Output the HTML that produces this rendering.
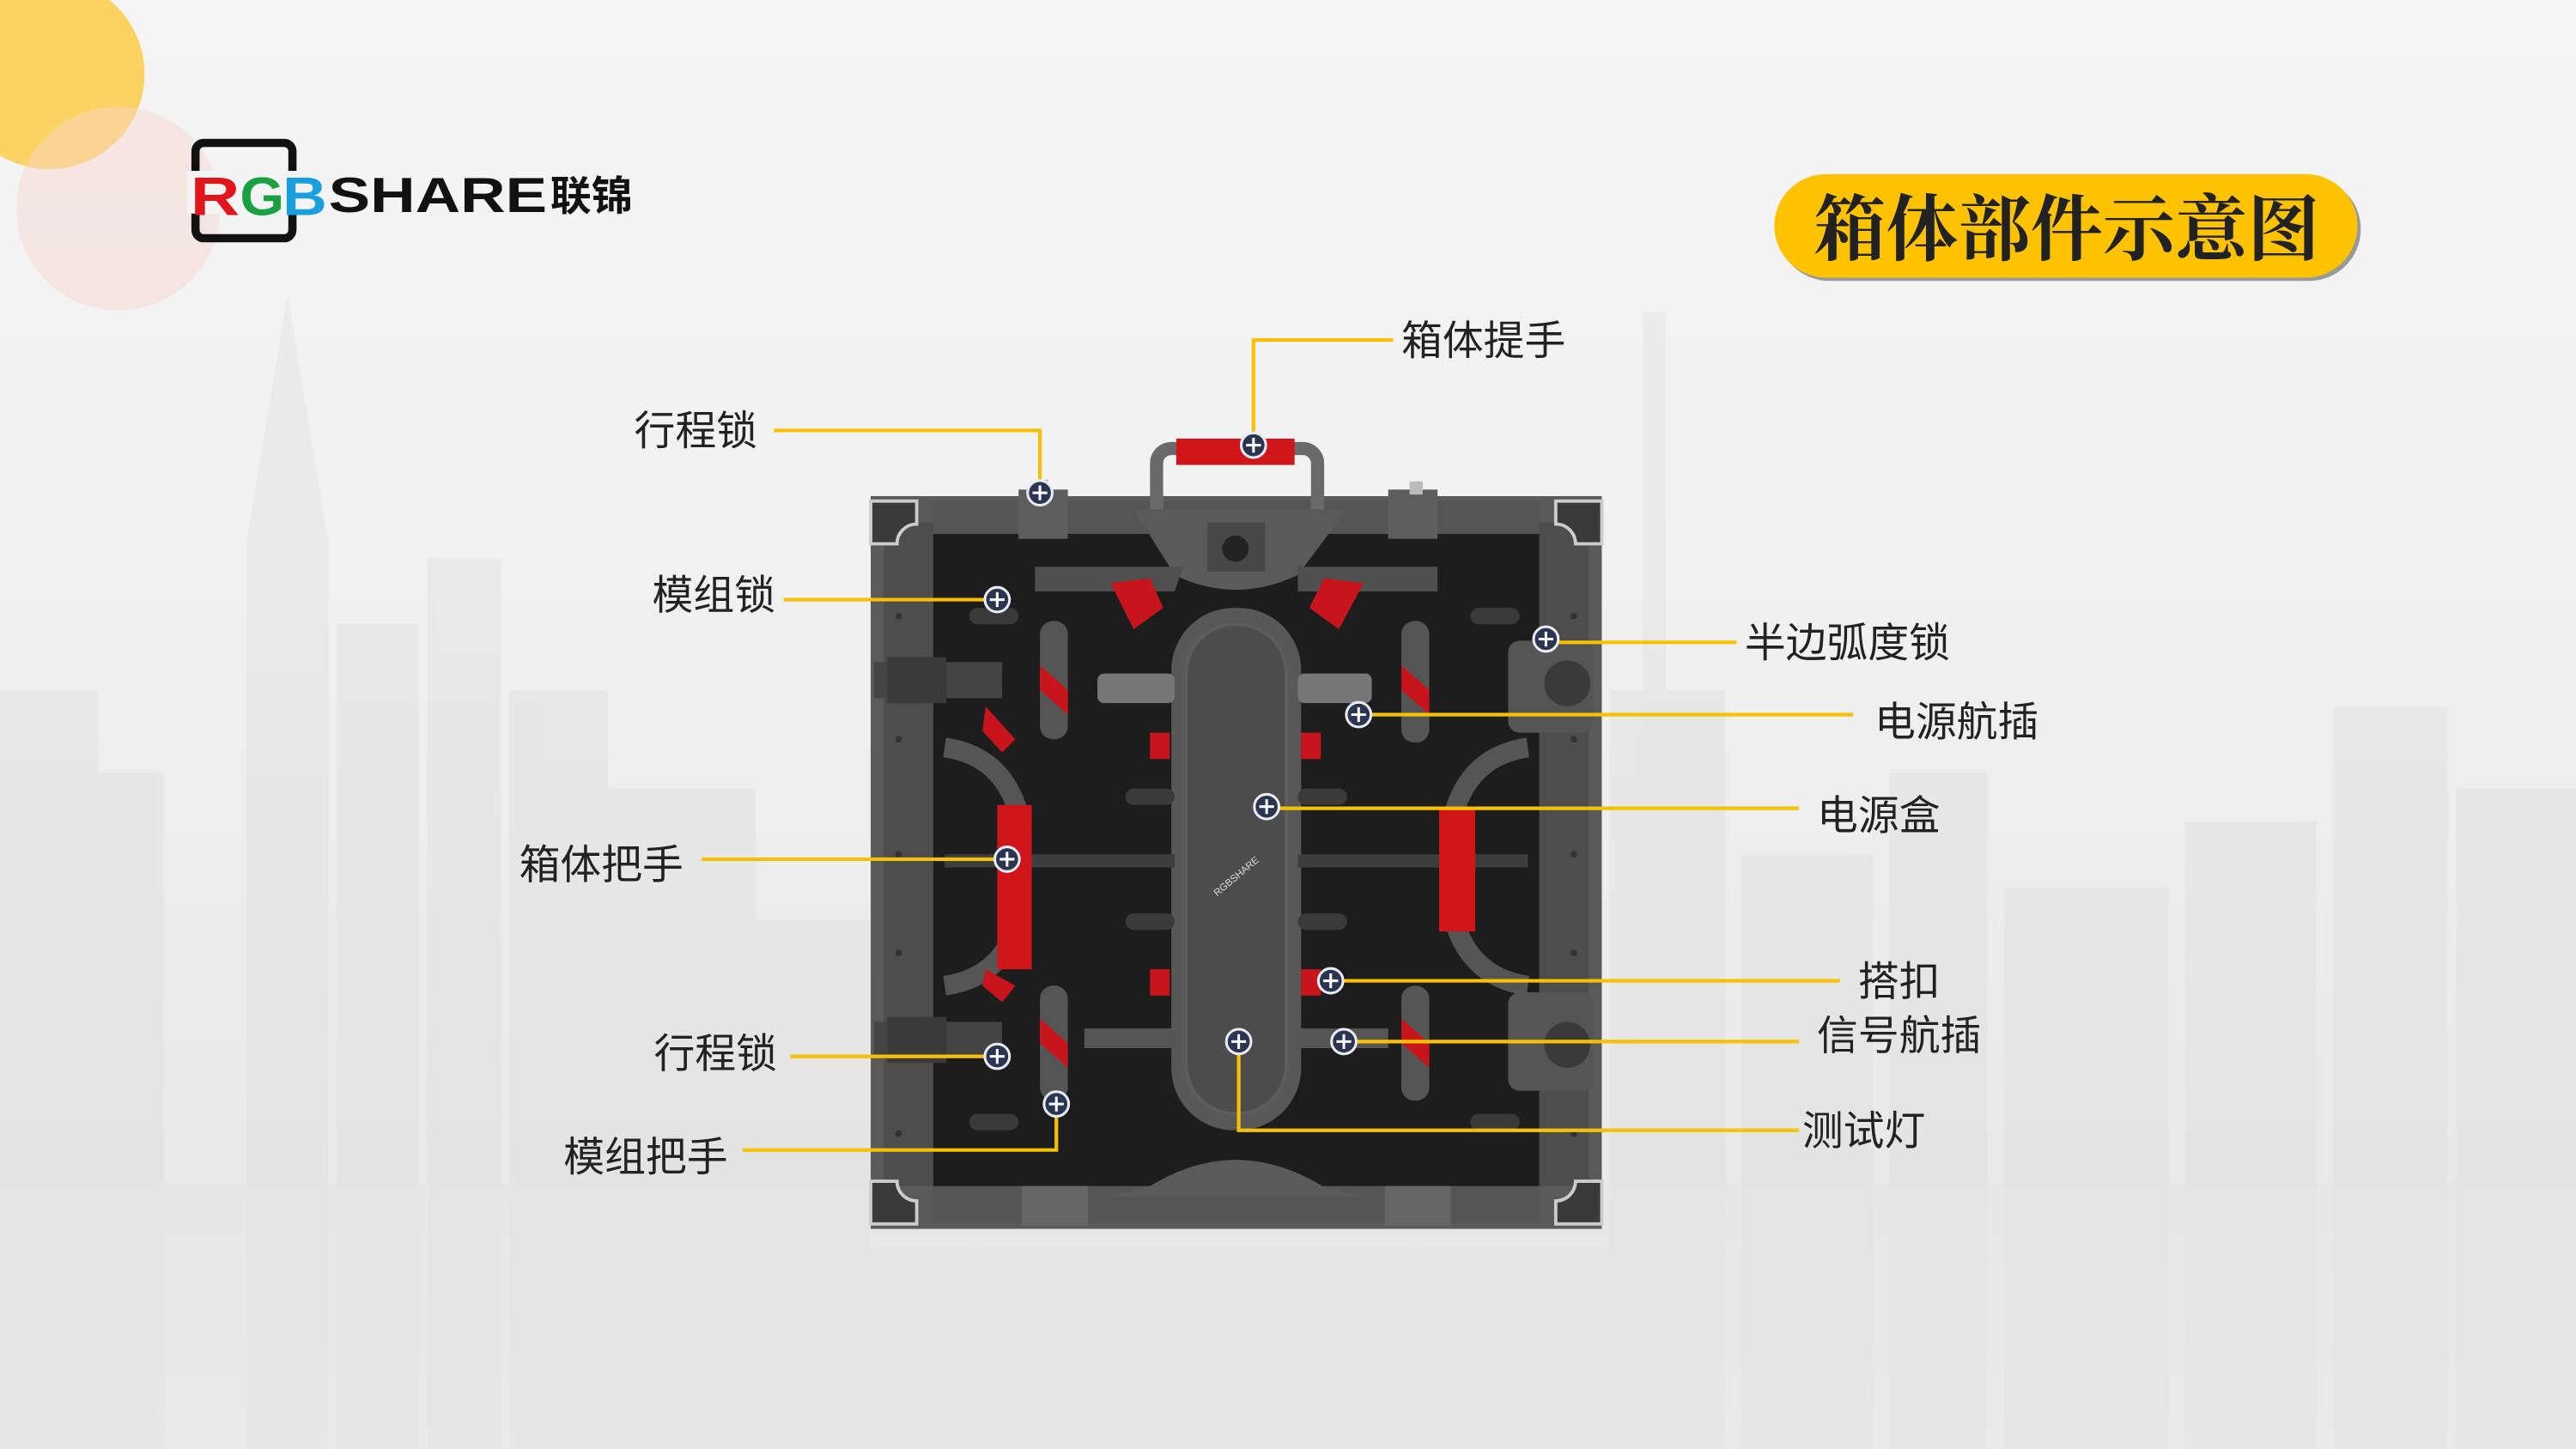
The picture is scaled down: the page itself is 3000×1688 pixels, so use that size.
<!DOCTYPE html>
<html><head><meta charset="utf-8"><style>
html,body{margin:0;padding:0;width:3000px;height:1688px;overflow:hidden;background:#f2f2f2}
svg{display:block}
text{font-family:"Liberation Sans","Noto Sans CJK SC",sans-serif}
.ttl{font-family:"Liberation Serif","Noto Serif CJK SC",serif}
</style></head><body>
<svg width="3000" height="1688" viewBox="0 0 1568 882" preserveAspectRatio="none" xmlns="http://www.w3.org/2000/svg">
<defs>
<linearGradient id="bg" x1="0" y1="0" x2="0" y2="1">
<stop offset="0" stop-color="#f5f5f5"/><stop offset="0.4" stop-color="#f1f1f1"/><stop offset="0.8" stop-color="#e9e9e9"/><stop offset="1" stop-color="#eeeeee"/></linearGradient>
<g id="mk"><circle r="7.5" fill="#2b3552" stroke="#e8ecf4" stroke-width="1.6"/><path d="M-4.5 0H4.5M0 -4.5V4.5" stroke="#fff" stroke-width="1.6"/></g>
</defs>
<rect width="1568" height="882" fill="url(#bg)"/>
<!-- faint city -->
<g fill="#d6d6d6" opacity="0.28">
<rect x="0" y="420" width="60" height="462"/><rect x="60" y="470" width="40" height="412"/>
<path d="M150 330 L175 180 L200 330 L200 882 L150 882Z"/><rect x="205" y="380" width="50" height="502"/>
<rect x="260" y="340" width="45" height="542"/><rect x="310" y="420" width="60" height="462"/>
<rect x="370" y="480" width="90" height="402"/><rect x="460" y="560" width="70" height="322"/>
<rect x="980" y="420" width="70" height="462"/><rect x="1000" y="190" width="14" height="240"/>
<rect x="1060" y="520" width="80" height="362"/><rect x="1150" y="470" width="60" height="412"/>
<rect x="1220" y="540" width="100" height="342"/><rect x="1330" y="500" width="80" height="382"/>
<rect x="1420" y="430" width="70" height="452"/><rect x="1495" y="480" width="73" height="402"/>
<rect x="530" y="760" width="450" height="122"/><rect x="0" y="720" width="1568" height="162" opacity="0.5"/>
</g>
<!-- decorative circles -->
<circle cx="30" cy="45" r="58" fill="#fcd15b" opacity="0.95"/>
<circle cx="72" cy="127" r="62" fill="#f7d4cc" opacity="0.45"/>
<!-- logo -->
<rect x="119" y="87" width="59" height="58" rx="5" fill="none" stroke="#111" stroke-width="5"/>
<rect x="114" y="104" width="92" height="26" fill="#f4f4f4"/>
<text x="116" y="131" font-size="33" font-weight="bold" fill="#e0161c" textLength="30" lengthAdjust="spacingAndGlyphs">R</text>
<text x="146" y="131" font-size="33" font-weight="bold" fill="#1aa040" textLength="27" lengthAdjust="spacingAndGlyphs">G</text>
<text x="172" y="131" font-size="33" font-weight="bold" fill="#1b9ee0" textLength="27" lengthAdjust="spacingAndGlyphs">B</text>
<text x="200" y="129" font-size="30" font-weight="bold" fill="#111" textLength="133" lengthAdjust="spacingAndGlyphs">SHARE</text>
<text x="335" y="128" font-size="25" font-weight="bold" fill="#111">联锦</text>
<!-- title pill -->
<rect x="1082" y="108" width="355" height="63" rx="31.5" fill="#999"/>
<rect x="1080" y="106" width="355" height="63" rx="31.5" fill="#fec300"/>
<text class="ttl" x="1258" y="155" font-size="44" fill="#222" text-anchor="middle" font-weight="bold">箱体部件示意图</text>

<!-- cabinet -->
<g>
<rect x="530" y="302" width="445" height="446" fill="#5a5a5a"/>
<rect x="568" y="318" width="369" height="404" fill="#1d1d1d"/>
<rect x="538" y="318" width="30" height="404" fill="#4d4d4d"/>
<rect x="937" y="318" width="30" height="404" fill="#4d4d4d"/>
<g fill="#333"><circle cx="547" cy="375" r="2"/><circle cx="547" cy="410" r="2"/><circle cx="547" cy="450" r="2"/><circle cx="547" cy="520" r="2"/><circle cx="547" cy="580" r="2"/><circle cx="547" cy="630" r="2"/><circle cx="547" cy="690" r="2"/>
<circle cx="958" cy="375" r="2"/><circle cx="958" cy="450" r="2"/><circle cx="958" cy="520" r="2"/><circle cx="958" cy="580" r="2"/><circle cx="958" cy="690" r="2"/></g>
<g fill="#3a3a3a" stroke="#ccc" stroke-width="2">
<path d="M530 305h28v14a12 12 0 0 0-12 12h-16Z"/><path d="M975 305h-28v14a12 12 0 0 1 12 12h16Z"/>
<path d="M530 745h28v-14a12 12 0 0 1-12-12h-16Z"/><path d="M975 745h-28v-14a12 12 0 0 0 12-12h16Z"/>
</g>
<rect x="568" y="305" width="369" height="20" fill="#555"/>
<rect x="620" y="298" width="30" height="30" fill="#5e5e5e"/><rect x="845" y="298" width="30" height="30" fill="#5e5e5e"/>
<rect x="630" y="292" width="8" height="8" fill="#bbb"/><rect x="858" y="293" width="8" height="8" fill="#bbb"/>
<rect x="568" y="722" width="369" height="22" fill="#555"/>
<rect x="622" y="722" width="40" height="24" fill="#666"/><rect x="843" y="722" width="40" height="24" fill="#666"/>
<path d="M704 310 V282 a9 9 0 0 1 9 -9 h80 a9 9 0 0 1 9 9 V310" fill="none" stroke="#6a6a6a" stroke-width="8"/>
<rect x="716" y="267" width="72" height="16" fill="#d0151b"/>
<path d="M690 310 H820 L790 350 Q752 368 715 350Z" fill="#5a5a5a"/>
<rect x="735" y="318" width="35" height="30" fill="#474747"/><circle cx="752" cy="334" r="8" fill="#222"/>
<path d="M700 722 Q752 690 805 722 L830 728 H675Z" fill="#5a5a5a"/>
<path d="M630 345 H720 L715 360 H630Z" fill="#505050"/><path d="M790 345 H875 V360 H790Z" fill="#505050"/>
<path d="M676 355 L700 352 L708 370 L690 383Z" fill="#c8151b"/><path d="M830 355 L806 352 L797 370 L815 383Z" fill="#c8151b"/>
<rect x="713" y="370" width="79" height="318" rx="38" fill="#585858"/>
<rect x="722" y="380" width="61" height="298" rx="30" fill="#4c4c4c" stroke="#5d5d5d" stroke-width="2"/>
<text x="737" y="545" font-size="6" fill="#ddd" transform="rotate(-40 740 540)">RGBSHARE</text>
<rect x="575" y="520" width="140" height="8" fill="#3e3e3e"/><rect x="790" y="520" width="140" height="8" fill="#3e3e3e"/>
<g fill="#555"><rect x="633" y="378" width="17" height="72" rx="8"/><rect x="853" y="378" width="17" height="74" rx="8"/>
<rect x="633" y="600" width="17" height="70" rx="8"/><rect x="853" y="600" width="17" height="70" rx="8"/></g>
<g fill="#c8151b"><path d="M633 405 L650 420 V435 L633 420Z"/><path d="M853 405 L870 420 V435 L853 420Z"/>
<path d="M633 620 L650 635 V650 L633 635Z"/><path d="M853 620 L870 635 V650 L853 635Z"/></g>
<path d="M575 455 Q610 460 620 495 V560 Q610 595 575 600" fill="none" stroke="#555" stroke-width="12"/>
<rect x="607" y="490" width="21" height="100" fill="#d0151b"/>
<path d="M930 455 Q895 460 885 495 V560 Q895 595 930 600" fill="none" stroke="#555" stroke-width="12"/>
<rect x="876" y="492" width="22" height="75" fill="#d0151b"/>
<rect x="532" y="403" width="78" height="22" fill="#444"/><rect x="540" y="400" width="36" height="28" fill="#3a3a3a"/>
<rect x="532" y="622" width="78" height="22" fill="#444"/><rect x="540" y="619" width="36" height="28" fill="#3a3a3a"/>
<path d="M600 430 L618 450 L610 458 L598 445Z" fill="#c8151b"/><path d="M600 590 L618 600 L610 610 L598 600Z" fill="#c8151b"/>
<rect x="668" y="410" width="47" height="18" rx="4" fill="#777"/><rect x="790" y="410" width="45" height="18" rx="4" fill="#777"/>
<rect x="700" y="446" width="12" height="16" fill="#c8151b"/><rect x="792" y="446" width="12" height="16" fill="#c8151b"/>
<rect x="700" y="590" width="12" height="16" fill="#c8151b"/><rect x="792" y="590" width="12" height="16" fill="#c8151b"/>
<rect x="660" y="626" width="55" height="12" fill="#555"/><rect x="790" y="626" width="55" height="12" fill="#555"/>
<rect x="918" y="390" width="52" height="56" rx="7" fill="#555"/><circle cx="954" cy="416" r="14" fill="#3a3a3a"/>
<rect x="918" y="604" width="52" height="60" rx="7" fill="#555"/><circle cx="954" cy="636" r="14" fill="#3a3a3a"/>
<g fill="#3a3a3a"><rect x="590" y="370" width="30" height="10" rx="5"/><rect x="895" y="370" width="30" height="10" rx="5"/>
<rect x="685" y="480" width="30" height="10" rx="5"/><rect x="790" y="480" width="30" height="10" rx="5"/>
<rect x="685" y="556" width="30" height="10" rx="5"/><rect x="790" y="556" width="30" height="10" rx="5"/>
<rect x="590" y="678" width="30" height="10" rx="5"/><rect x="895" y="678" width="30" height="10" rx="5"/></g>
</g>

<g fill="none" stroke="#f7c000" stroke-width="2.2">
<path d="M763 271 V207 H848"/>
<path d="M471 262 H633 V300"/>
<path d="M477 365 H607"/>
<path d="M941 391 H1057"/>
<path d="M827 435 H1128"/>
<path d="M771 492 H1095"/>
<path d="M427 523 H613"/>
<path d="M810 597 H1120"/>
<path d="M818 634 H1095"/>
<path d="M481 643 H607"/>
<path d="M452 700 H643 V672"/>
<path d="M754 634 V688 H1095"/>
</g>
<use href="#mk" x="763" y="271"/><use href="#mk" x="633" y="300"/><use href="#mk" x="607" y="365"/>
<use href="#mk" x="941" y="389"/><use href="#mk" x="827" y="435"/><use href="#mk" x="771" y="491"/>
<use href="#mk" x="613" y="523"/><use href="#mk" x="810" y="597"/><use href="#mk" x="818" y="634"/>
<use href="#mk" x="607" y="643"/><use href="#mk" x="643" y="672"/><use href="#mk" x="754" y="634"/>

<g font-size="25" fill="#222">
<text x="853" y="216">箱体提手</text>
<text x="386" y="271">行程锁</text>
<text x="397" y="371">模组锁</text>
<text x="1062" y="400">半边弧度锁</text>
<text x="1141" y="448">电源航插</text>
<text x="1106" y="505">电源盒</text>
<text x="316" y="535">箱体把手</text>
<text x="1131" y="606">搭扣</text>
<text x="1106" y="639">信号航插</text>
<text x="398" y="650">行程锁</text>
<text x="343" y="713">模组把手</text>
<text x="1097" y="697">测试灯</text>
</g>
</svg>
</body></html>
